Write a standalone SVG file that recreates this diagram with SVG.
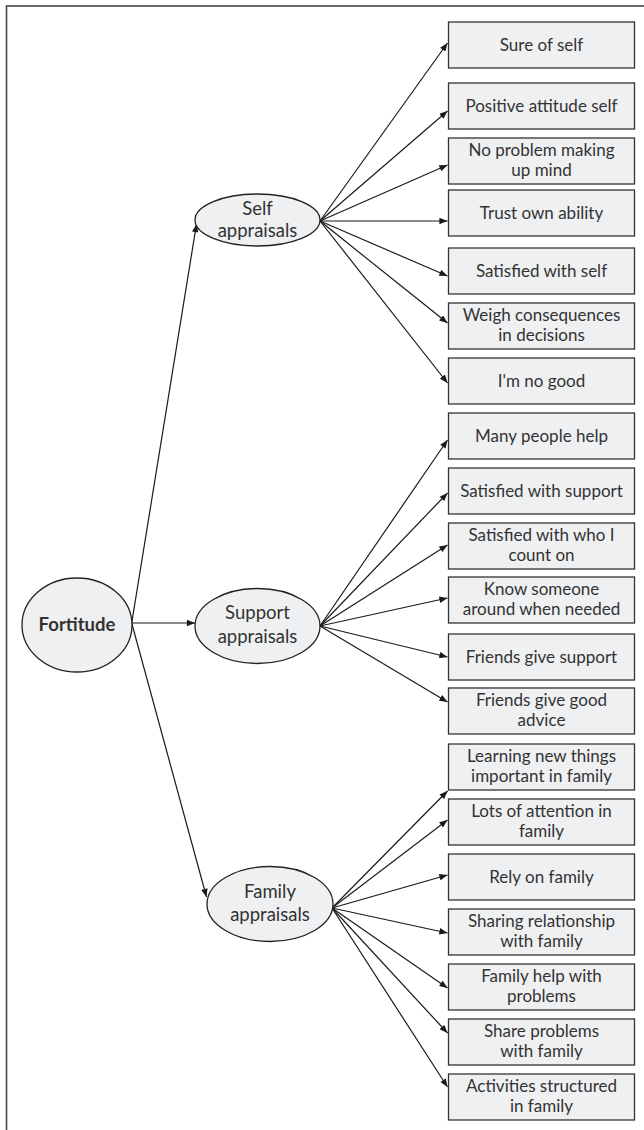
<svg xmlns="http://www.w3.org/2000/svg" width="644" height="1130" viewBox="0 0 644 1130">
<style>
.box{fill:#eff0f2;stroke:#333;stroke-width:1.3}
.ell{fill:#eff0f2;stroke:#222;stroke-width:1.3}
.t{font-family:Lato,"Liberation Sans",sans-serif;font-size:17px;fill:#333;text-anchor:middle}
.et{font-family:Lato,"Liberation Sans",sans-serif;font-size:18.5px;fill:#333;text-anchor:middle}
.bold{font-weight:bold}
.c line{stroke:#1a1a1a;stroke-width:1.2;marker-end:url(#ah)}
</style>
<defs>
<marker id="ah" viewBox="0 0 10 8" refX="10" refY="4" markerWidth="9" markerHeight="6.5" markerUnits="userSpaceOnUse" orient="auto">
<path d="M0,0 L10,4 L0,8 z" fill="#1a1a1a"/>
</marker>
</defs>
<rect x="6.5" y="6" width="700" height="1200" fill="none" stroke="#444" stroke-width="1.6"/>
<g class="c" id="connectors">
<line x1="131.7" y1="623" x2="196.5" y2="224"/>
<line x1="131.7" y1="623" x2="195" y2="623"/>
<line x1="131.7" y1="623" x2="206.5" y2="897"/>
<line x1="320" y1="221" x2="447.5" y2="43"/>
<line x1="320" y1="221" x2="447.5" y2="111"/>
<line x1="320" y1="221" x2="447.5" y2="165"/>
<line x1="320" y1="221" x2="447.5" y2="221"/>
<line x1="320" y1="221" x2="447.5" y2="276"/>
<line x1="320" y1="221" x2="447.5" y2="323"/>
<line x1="320" y1="221" x2="447.5" y2="383"/>
<line x1="320" y1="626" x2="447.5" y2="440"/>
<line x1="320" y1="626" x2="447.5" y2="493"/>
<line x1="320" y1="626" x2="447.5" y2="545"/>
<line x1="320" y1="626" x2="447.5" y2="598"/>
<line x1="320" y1="626" x2="447.5" y2="657"/>
<line x1="320" y1="626" x2="447.5" y2="702"/>
<line x1="332" y1="908" x2="447.5" y2="791"/>
<line x1="332" y1="908" x2="447.5" y2="820"/>
<line x1="332" y1="908" x2="447.5" y2="875"/>
<line x1="332" y1="908" x2="447.5" y2="933"/>
<line x1="332" y1="908" x2="447.5" y2="988"/>
<line x1="332" y1="908" x2="447.5" y2="1033"/>
<line x1="332" y1="908" x2="447.5" y2="1087"/>
</g>
<g id="fortitude"><ellipse class="ell" cx="77" cy="625" rx="55" ry="47"/><text class="et bold" x="77" y="631">Fortitude</text></g>
<g id="self-appraisals"><ellipse class="ell" cx="257.5" cy="220" rx="62.5" ry="26"/><text class="et" x="257.5" y="215">Self</text><text class="et" x="257.5" y="237">appraisals</text></g>
<g id="support-appraisals"><ellipse class="ell" cx="257.5" cy="626" rx="62.5" ry="37.5"/><text class="et" x="257.5" y="619">Support</text><text class="et" x="257.5" y="643">appraisals</text></g>
<g id="family-appraisals"><ellipse class="ell" cx="270" cy="904" rx="63" ry="37.5"/><text class="et" x="270" y="898">Family</text><text class="et" x="270" y="921">appraisals</text></g>
<g id="b1"><rect class="box" x="448.5" y="22" width="186" height="46"/><text class="t" x="541.5" y="51">Sure of self</text></g>
<g id="b2"><rect class="box" x="448.5" y="83" width="186" height="46"/><text class="t" x="541.5" y="112">Positive attitude self</text></g>
<g id="b3"><rect class="box" x="448.5" y="138" width="186" height="46"/><text class="t" x="541.5" y="155.5">No problem making</text><text class="t" x="541.5" y="175.5">up mind</text></g>
<g id="b4"><rect class="box" x="448.5" y="190" width="186" height="46"/><text class="t" x="541.5" y="219">Trust own ability</text></g>
<g id="b5"><rect class="box" x="448.5" y="248" width="186" height="46"/><text class="t" x="541.5" y="277">Satisfied with self</text></g>
<g id="b6"><rect class="box" x="448.5" y="303" width="186" height="46"/><text class="t" x="541.5" y="320.5">Weigh consequences</text><text class="t" x="541.5" y="340.5">in decisions</text></g>
<g id="b7"><rect class="box" x="448.5" y="358" width="186" height="46"/><text class="t" x="541.5" y="387">I'm no good</text></g>
<g id="b8"><rect class="box" x="448.5" y="413" width="186" height="46"/><text class="t" x="541.5" y="442">Many people help</text></g>
<g id="b9"><rect class="box" x="448.5" y="468" width="186" height="46"/><text class="t" x="541.5" y="497">Satisfied with support</text></g>
<g id="b10"><rect class="box" x="448.5" y="523" width="186" height="46"/><text class="t" x="541.5" y="540.5">Satisfied with who I</text><text class="t" x="541.5" y="560.5">count on</text></g>
<g id="b11"><rect class="box" x="448.5" y="577" width="186" height="46"/><text class="t" x="541.5" y="594.5">Know someone</text><text class="t" x="541.5" y="614.5">around when needed</text></g>
<g id="b12"><rect class="box" x="448.5" y="634" width="186" height="46"/><text class="t" x="541.5" y="663">Friends give support</text></g>
<g id="b13"><rect class="box" x="448.5" y="688" width="186" height="46"/><text class="t" x="541.5" y="705.5">Friends give good</text><text class="t" x="541.5" y="725.5">advice</text></g>
<g id="b14"><rect class="box" x="448.5" y="744" width="186" height="46"/><text class="t" x="541.5" y="761.5">Learning new things</text><text class="t" x="541.5" y="781.5">important in family</text></g>
<g id="b15"><rect class="box" x="448.5" y="799" width="186" height="46"/><text class="t" x="541.5" y="816.5">Lots of attention in</text><text class="t" x="541.5" y="836.5">family</text></g>
<g id="b16"><rect class="box" x="448.5" y="854" width="186" height="46"/><text class="t" x="541.5" y="883">Rely on family</text></g>
<g id="b17"><rect class="box" x="448.5" y="909" width="186" height="46"/><text class="t" x="541.5" y="926.5">Sharing relationship</text><text class="t" x="541.5" y="946.5">with family</text></g>
<g id="b18"><rect class="box" x="448.5" y="964" width="186" height="46"/><text class="t" x="541.5" y="981.5">Family help with</text><text class="t" x="541.5" y="1001.5">problems</text></g>
<g id="b19"><rect class="box" x="448.5" y="1019" width="186" height="46"/><text class="t" x="541.5" y="1036.5">Share problems</text><text class="t" x="541.5" y="1056.5">with family</text></g>
<g id="b20"><rect class="box" x="448.5" y="1074" width="186" height="46"/><text class="t" x="541.5" y="1091.5">Activities structured</text><text class="t" x="541.5" y="1111.5">in family</text></g>
</svg>
